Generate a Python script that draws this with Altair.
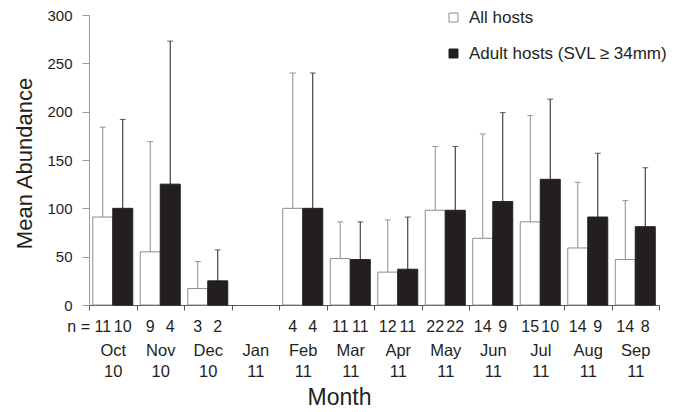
import altair as alt
import pandas as pd

months = ["Oct 10", "Nov 10", "Dec 10", "Jan 11", "Feb 11", "Mar 11",
          "Apr 11", "May 11", "Jun 11", "Jul 11", "Aug 11", "Sep 11"]
groups = ["All hosts", "Adult hosts (SVL \u2265 34mm)"]

all_mean = [91, 55, 17, None, 100, 48, 34, 98, 69, 86, 59, 47]
all_upper = [184, 169, 45, None, 240, 86, 88, 164, 177, 196, 127, 108]
adult_mean = [100, 125, 25, None, 100, 47, 37, 98, 107, 130, 91, 81]
adult_upper = [192, 273, 57, None, 240, 86, 91, 164, 199, 213, 157, 142]
n_all = ["11", "9", "3", "", "4", "11", "12", "22", "14", "15", "14", "14"]
n_adult = ["10", "4", "2", "", "4", "11", "11", "22", "9", "10", "9", "8"]

rows = []
for i, m in enumerate(months):
    for g, means, ups, ns in [(groups[0], all_mean, all_upper, n_all),
                              (groups[1], adult_mean, adult_upper, n_adult)]:
        rows.append(dict(month=m, group=g, mean=means[i], upper=ups[i], n=ns[i]))
df = pd.DataFrame(rows)

DARK = "#231f20"
GREY = "#8c8c8c"
PLOT_H = 290

x_axis = alt.Axis(
    title="Month", titleFontSize=23, titleFontWeight="normal", titleColor=DARK,
    titleX=250, titleY=92, titleAlign="center", titleBaseline="middle",
    tickBand="extent", tickSize=5, tickColor="#555555", domainColor="#555555",
    labelExpr="isValid(datum.value) ? split(datum.value, ' ') : ''",
    labelLineHeight=21, labelFontSize=16.5,
    labelAngle=0, labelBaseline="top", labelPadding=32, labelColor=DARK,
)
y_axis = alt.Axis(
    values=[0, 50, 100, 150, 200, 250, 300], tickSize=7, labelPadding=10,
    domainColor="#9a9a9a", tickColor="#9a9a9a", labelFontSize=15, labelColor=DARK,
    title="Mean Abundance", titleFontSize=22, titleFontWeight="normal", titleColor=DARK,
    titleX=-65, titleY=148, titleAlign="center", titleBaseline="middle", grid=False,
)

x_enc = alt.X("month:N", scale=alt.Scale(domain=months, paddingInner=0, paddingOuter=0), axis=x_axis)
xo_enc = alt.XOffset("group:N", scale=alt.Scale(domain=groups, paddingInner=0, paddingOuter=0.1875))
y_scale = alt.Scale(domain=[0, 300], nice=False)

base = alt.Chart(df)
valid = base.transform_filter("isValid(datum.mean)")

bars = valid.mark_bar(strokeWidth=1).encode(
    x=x_enc, xOffset=xo_enc,
    y=alt.Y("mean:Q", scale=y_scale, axis=y_axis),
    fill=alt.Fill("group:N", scale=alt.Scale(domain=groups, range=["white", DARK]),
                  legend=alt.Legend(orient="none", legendX=356, legendY=-6, title=None,
                                    symbolType="square", symbolSize=81,
                                    symbolStrokeColor=GREY, symbolStrokeWidth=1,
                                    labelFontSize=17, labelColor=DARK, rowPadding=18,
                                    labelOffset=7, padding=0, labelLimit=0)),
    stroke=alt.Stroke("group:N", scale=alt.Scale(domain=groups, range=[GREY, DARK]), legend=None),
)

rules = valid.mark_rule(strokeWidth=1).encode(
    x=x_enc, xOffset=xo_enc,
    y=alt.Y("mean:Q", scale=y_scale, axis=y_axis), y2="upper:Q",
    stroke=alt.Stroke("group:N", scale=alt.Scale(domain=groups, range=[GREY, DARK]), legend=None),
)

caps = valid.mark_tick(thickness=1, size=6).encode(
    x=x_enc, xOffset=xo_enc,
    y=alt.Y("upper:Q", scale=y_scale, axis=y_axis),
    color=alt.Color("group:N", scale=alt.Scale(domain=groups, range=["#6e6e6e", DARK]), legend=None),
)

ntext = base.mark_text(fontSize=16, baseline="middle", color=DARK).encode(
    x=x_enc, xOffset=xo_enc, y=alt.value(PLOT_H + 21.7), text="n:N",
)

nlab = alt.Chart(pd.DataFrame({"t": ["n ="]})).mark_text(
    fontSize=16, baseline="middle", align="right", color=DARK
).encode(x=alt.value(1), y=alt.value(PLOT_H + 21.7), text="t:N")

chart = alt.layer(bars, rules, caps, ntext, nlab).properties(
    width=570, height=PLOT_H,
    autosize=alt.AutoSizeParams(type="none"),
    padding={"left": 81, "top": 7, "right": 20, "bottom": 104},
).configure(font="Liberation Sans").configure_view(stroke=None)

chart.save("out.html", embed_options={"renderer": "svg", "actions": False})
